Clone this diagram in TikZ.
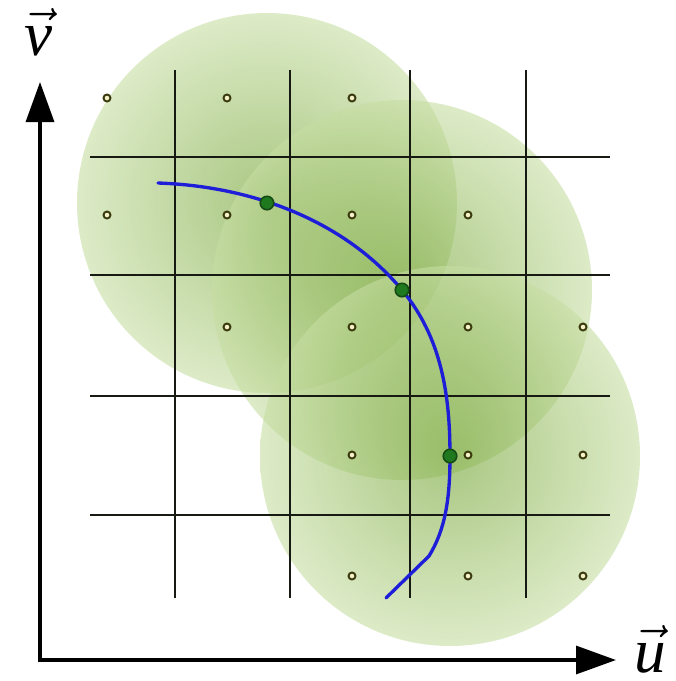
\documentclass[tikz,border=0pt]{standalone}
\usepackage{fix-cm}
\usepackage{amsmath}
\usepackage{fontspec}
\newfontfamily\labelfont{Liberation Serif}
\usetikzlibrary{arrows.meta}
\definecolor{ink}{HTML}{161A12}
\definecolor{curveblue}{HTML}{1E1ED8}
\definecolor{blobin}{HTML}{6FA22E}
\definecolor{blobout}{HTML}{C6DDA2}
\definecolor{dotline}{HTML}{3A3A0E}
\definecolor{dotfill}{HTML}{F4F2C8}
\definecolor{samplefill}{HTML}{1F7A1F}
\definecolor{sampleline}{HTML}{154A15}
\newcommand{\axisfont}{\fontsize{36}{38}\selectfont}
\tikzset{
 gridline/.style={draw=ink,line width=1.6pt},
 axis/.style={draw=black,line width=1.9pt,{Triangle[length=8mm,width=5.6mm]}-{Triangle[length=8mm,width=5.6mm]}},
 blob/.style={inner color=blobin,outer color=blobout,opacity=.6},
 curve/.style={draw=curveblue,line width=1.9pt,line cap=round},
 cellpt/.style={circle,draw=dotline,fill=dotfill,line width=1.1pt,inner sep=0pt,minimum size=1.4mm},
 sample/.style={circle,draw=sampleline,fill=samplefill,line width=.9pt,inner sep=0pt,minimum size=2.7mm},
 axislabel/.style={font=\axisfont,inner sep=0pt,anchor=base},
}

\begin{document}
\begin{tikzpicture}[x=0.02cm,y=-0.02cm]

\useasboundingbox (0,0) rectangle (676,681);
\coordinate (c1) at (267,203); \coordinate (c2) at (402,290); \coordinate (c3) at (450,456);
\shade[blob] (c1) circle (190); \shade[blob] (c2) circle (190); \shade[blob] (c3) circle (190);
\foreach \x in {175,290,410,526} \draw[gridline] (\x,70) -- (\x,598);
\foreach \y in {157,275,396,515} \draw[gridline] (90,\y) -- (610,\y);
\foreach \x/\y [count=\i] in {107/98,227/98,352/98,107/215,227/215,352/215,468/215,227/327,352/327,468/327,583/327,352/455,468/455,583/455,352/576,468/576,583/576}
  \node[cellpt] (pt\i) at (\x,\y) {};
\coordinate (cstart) at (158,183); \coordinate (cbend) at (429,556); \coordinate (cend) at (386,598);
\draw[curve] (cstart) .. controls (248,186) and (342,218) .. (c2) .. controls (442,338) and (450,396) .. (c3)
  .. controls (450,500) and (445,530) .. (cbend) -- (cend);
\node[sample] (s1) at (c1) {}; \node[sample] (s2) at (c2) {}; \node[sample] (s3) at (c3) {};
\coordinate (origin) at (40,660); \coordinate (vtip) at (40,82); \coordinate (utip) at (616,660);
\draw[axis] (vtip) -- (origin) -- (utip);
\node[axislabel] (vlabel) at (39,55) {$\vec{\text{\labelfont\itshape v}}$};
\node[axislabel] (ulabel) at (650,672) {$\vec{\text{\labelfont\itshape u}}$};

\end{tikzpicture}
\end{document}
